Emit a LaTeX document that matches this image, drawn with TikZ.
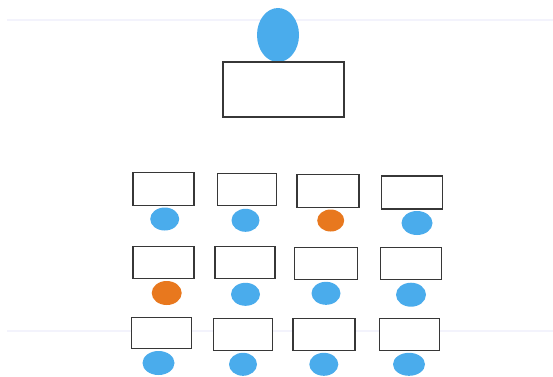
\documentclass[tikz,border=0pt]{standalone}
\definecolor{seatblue}{RGB}{74,172,236}
\definecolor{seatorange}{RGB}{232,120,30}
\definecolor{deskline}{RGB}{55,55,55}
\definecolor{paperline}{RGB}{243,243,252}
\tikzset{
  desk/.style={draw=deskline, line width=1.4pt, rectangle, inner sep=0pt, fill=white},
  bluep/.style={ellipse, fill=seatblue, inner sep=0pt},
  orangep/.style={ellipse, fill=seatorange, inner sep=0pt},
  pline/.style={draw=paperline, line width=1.2pt}
}
\usetikzlibrary{shapes.geometric}
\begin{document}
\begin{tikzpicture}[x=1pt,y=-1pt]
\useasboundingbox (0,0) rectangle (553,376);
\fill[white] (0,0) rectangle (553,376);
% faint paper lines
\coordinate (pl1a) at (7,20); \coordinate (pl1b) at (553,20);
\coordinate (pl2a) at (7,331); \coordinate (pl2b) at (553,331);
\draw[pline] (pl1a) -- (pl1b);
\draw[pline] (pl2a) -- (pl2b);
% teacher
\node[bluep, minimum width=42pt, minimum height=54pt] (teacher) at (278,35) {};
\node[desk, minimum width=121pt, minimum height=55pt] (tdesk) at (283.3,89.5) {};
% row 1
\node[desk, minimum width=61pt, minimum height=33pt] (d11) at (163.6,189.2) {};
\node[desk, minimum width=59pt, minimum height=32pt] (d12) at (247,189.5) {};
\node[desk, minimum width=62pt, minimum height=33pt] (d13) at (327.8,191) {};
\node[desk, minimum width=61pt, minimum height=33pt] (d14) at (411.8,192.5) {};
\node[bluep, minimum width=29pt, minimum height=23pt] (s11) at (164.7,219) {};
\node[bluep, minimum width=28pt, minimum height=23pt] (s12) at (245.5,220.3) {};
\node[orangep, minimum width=27pt, minimum height=22pt] (s13) at (330.7,220.5) {};
\node[bluep, minimum width=31pt, minimum height=24pt] (s14) at (417,223) {};
% row 2
\node[desk, minimum width=61pt, minimum height=32pt] (d21) at (163.3,262.5) {};
\node[desk, minimum width=60pt, minimum height=32pt] (d22) at (245,262.5) {};
\node[desk, minimum width=63pt, minimum height=32pt] (d23) at (325.8,263.5) {};
\node[desk, minimum width=61pt, minimum height=32pt] (d24) at (410.8,263.5) {};
\node[orangep, minimum width=30pt, minimum height=24pt] (s21) at (166.7,293) {};
\node[bluep, minimum width=29pt, minimum height=23pt] (s22) at (245.5,294.3) {};
\node[bluep, minimum width=29pt, minimum height=23pt] (s23) at (326,293.3) {};
\node[bluep, minimum width=30pt, minimum height=24pt] (s24) at (411,294.7) {};
% row 3
\node[desk, minimum width=60pt, minimum height=31pt] (d31) at (161.7,333) {};
\node[desk, minimum width=59pt, minimum height=32pt] (d32) at (243,334.2) {};
\node[desk, minimum width=62pt, minimum height=32pt] (d33) at (323.8,334.2) {};
\node[desk, minimum width=60pt, minimum height=32pt] (d34) at (409.3,334.5) {};
\node[bluep, minimum width=32pt, minimum height=24pt] (s31) at (158.5,363) {};
\node[bluep, minimum width=28pt, minimum height=23pt] (s32) at (243,364.3) {};
\node[bluep, minimum width=29pt, minimum height=23pt] (s33) at (323.8,364.3) {};
\node[bluep, minimum width=32pt, minimum height=23pt] (s34) at (409,364.3) {};
\end{tikzpicture}
\end{document}
